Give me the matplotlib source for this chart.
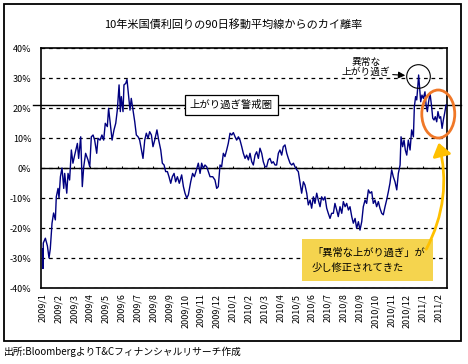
import matplotlib
matplotlib.use("Agg")
import matplotlib.pyplot as plt
from matplotlib.patches import Ellipse, Rectangle, FancyArrowPatch

# フォント（日本語）
plt.rcParams["font.family"] = ["Noto Sans CJK JP", "DejaVu Sans"]

# データ：2009年1月からの経過月数 と 90日移動平均線からのカイ離率(%)
months = [
    0.00, 0.03, 0.05, 0.18, 0.31, 0.41, 0.49, 0.60, 0.70, 0.81, 0.87, 0.98, 1.04, 1.13,
    1.23, 1.34, 1.40, 1.53, 1.61, 1.71, 1.82, 1.92, 2.03, 2.20, 2.28, 2.41, 2.51, 2.60,
    2.72, 2.87, 2.98, 3.08, 3.19, 3.29, 3.42, 3.50, 3.63, 3.75, 3.86, 3.96, 4.09, 4.17,
    4.30, 4.39, 4.51, 4.62, 4.72, 4.83, 4.91, 4.97, 5.08, 5.14, 5.25, 5.33, 5.44, 5.52,
    5.60, 5.71, 5.82, 5.92, 6.03, 6.13, 6.24, 6.34, 6.45, 6.55, 6.66, 6.76, 6.87, 6.97,
    7.08, 7.22, 7.33, 7.46, 7.56, 7.67, 7.77, 7.88, 7.98, 8.09, 8.19, 8.30, 8.40, 8.51,
    8.63, 8.78, 8.89, 8.99, 9.10, 9.20, 9.35, 9.47, 9.58, 9.68, 9.83, 9.94, 10.04, 10.15,
    10.25, 10.36, 10.46, 10.57, 10.74, 10.88, 10.99, 11.09, 11.20, 11.30, 11.41, 11.51,
    11.62, 11.72, 11.83, 11.94, 12.04, 12.15, 12.25, 12.36, 12.46, 12.57, 12.67, 12.78,
    12.88, 12.99, 13.09, 13.20, 13.30, 13.41, 13.51, 13.62, 13.72, 13.83, 13.93, 14.04,
    14.14, 14.25, 14.35, 14.46, 14.56, 14.67, 14.77, 14.88, 14.98, 15.09, 15.19, 15.30,
    15.41, 15.51, 15.62, 15.72, 15.83, 15.93, 16.04, 16.14, 16.25, 16.35, 16.46, 16.56,
    16.67, 16.77, 16.88, 16.98, 17.09, 17.19, 17.30, 17.40, 17.51, 17.61, 17.72, 17.82,
    17.93, 18.03, 18.14, 18.24, 18.35, 18.45, 18.56, 18.66, 18.77, 18.88, 18.98, 19.09,
    19.19, 19.30, 19.40, 19.51, 19.61, 19.72, 19.82, 19.93, 20.03, 20.14, 20.24, 20.35,
    20.45, 20.56, 20.66, 20.77, 20.87, 20.98, 21.08, 21.19, 21.29, 21.40, 21.50, 21.61,
    21.71, 21.82, 21.92, 22.03, 22.13, 22.24, 22.35, 22.45, 22.56, 22.62, 22.72, 22.81,
    22.89, 22.98, 23.08, 23.19, 23.29, 23.40, 23.46, 23.54, 23.61, 23.67, 23.73, 23.80,
    23.86, 23.94, 24.03, 24.13, 24.20, 24.28, 24.36, 24.45, 24.55, 24.62, 24.70, 24.78,
    24.87, 24.95, 25.04, 25.12, 25.21, 25.29, 25.37, 25.46,
]
values = [
    -27, -33.5, -25, -23.4, -26, -30, -27, -18.4, -15, -17.3, -9.6, -6.8, -10, -2.9,
    0, -6.8, -1.8, -8.4, -1.8, -4, 6, 1.6, 4.3, 8.2, 3.2, 10.4, -6.2, 0.4,
    4.9, 2.7, 0.4, 10.4, 11, 9.3, 4.9, 9.9, 9.3, 11, 9.3, 14.9, 13.8, 19.9,
    13.8, 9.3, 12.7, 14.9, 19.3, 27.7, 18.8, 23.8, 18.8, 27.7, 28.2, 29.5, 23.8, 19.3,
    23.2, 19.3, 15.4, 11, 10.4, 9.3, 6, 3.2, 9.3, 11.6, 9.9, 12.1, 11, 7.1,
    9.3, 12.7, 9.3, 6, 1.6, 1, -1.2, -1.2, -2.9, -5.1, -2.9, -1.8, -4.6, -2.9,
    -5.1, -2.3, -6.2, -8.4, -10, -9, -4.6, -1.8, -2.9, -1.2, 1.6, -1.8, 1.6, -0.1,
    1, 0.4, -1.2, -2.9, -2.9, -4, -6.8, -6.2, 1, 0.4, 4.9, 3.8,
    6, 8.2, 11.6, 11, 11.8, 10.4, 9.3, 10.4, 9.3, 7.1, 4.9, 3.2,
    4.3, 2.7, 4.9, 2.1, 1, 4.3, 5.4, 3.2, 6.6, 4.9, 2.1, 0.4,
    0.4, 2.7, 3.2, 1.6, 2.1, 1, 1, 4.9, 6, 4.3, 7.1, 7.7,
    4.9, 3.2, 1.6, 1, 1.6, 0.4, -0.6, -1.2, -5.1, -8.4, -4.6, -5.7,
    -8.4, -12.3, -10.7, -13.4, -9.6, -11.8, -8.4, -10.7, -12.9, -9.6, -10.7, -9.6,
    -13.4, -15.1, -16.8, -15.1, -15.1, -11.8, -14, -16.2, -12.9, -15.1, -11.2, -12.9,
    -11.8, -14, -12.9, -16.2, -18.4, -16.8, -20.1, -17.9, -20.7, -17.9, -12.9, -10.7,
    -11.8, -7.3, -8.4, -7.9, -11.8, -10.7, -12.9, -11.2, -13.4, -15.1, -15.6, -12.9,
    -10.7, -7.9, -5.1, -0.6, -2.9, -4.6, -7.3, -1.8, 1, 10.4, 7.1, 9.3,
    6, 4.3, 9.3, 6, 12.7, 10.4, 20.4, 23.8, 22.7, 26.6, 31, 26,
    22.1, 24.3, 23.2, 25.4, 21, 18.8, 22.1, 24.9, 20.4, 16.6, 16, 17.1,
    15.4, 18.8, 16.6, 17.1, 13.2, 16, 18.2, 21,
]

month_labels = [
    "2009/1", "2009/2", "2009/3", "2009/4", "2009/5", "2009/6", "2009/7", "2009/8",
    "2009/9", "2009/10", "2009/11", "2009/12", "2010/1", "2010/2", "2010/3", "2010/4",
    "2010/5", "2010/6", "2010/7", "2010/8", "2010/9", "2010/10", "2010/11", "2010/12",
    "2011/1", "2011/2",
]
y_ticks = [-40, -30, -20, -10, 0, 10, 20, 30, 40]
y_labels = ["-40%", "-30%", "-20%", "-10%", "0%", "10%", "20%", "30%", "40%"]
warning_level = 21      # 上がり過ぎ警戒ライン
peak_month, peak_value = 23.66, 30.7

fig = plt.figure(figsize=(4.68, 3.64), dpi=100)
fig.patch.set_facecolor("white")

# 外枠
fig.patches.append(Rectangle((4 / 468, 23 / 364), 457 / 468, 337 / 364, fill=False,
                             edgecolor="black", lw=1.3, transform=fig.transFigure))

ax = fig.add_axes([41 / 468, 76 / 364, 406 / 468, 240 / 364])

# 系列
ax.plot(months, values, color="#000080", lw=1.0, zorder=3)

ax.set_xlim(-0.095, 25.52)
ax.set_ylim(-40, 40)
ax.set_yticks(y_ticks)
ax.set_yticklabels(y_labels)
ax.set_xticks(range(len(month_labels)))
ax.set_xticklabels(month_labels, rotation=90, va="top", ha="center")
ax.tick_params(axis="y", length=0, pad=7, labelsize=6.5)
ax.tick_params(axis="x", length=0, pad=4, labelsize=6.5)
for s in ax.spines.values():
    s.set_linewidth(1.2)

ax.grid(axis="y", color="black", ls=(0, (3, 3)), lw=0.9)
ax.set_axisbelow(True)
ax.axhline(0, color="black", lw=1.0, zorder=2)
ax.vlines(range(1, len(month_labels)), 0, 0.8, color="black", lw=0.8, zorder=2)

# 上がり過ぎ警戒ライン
ax.plot([-0.02, 1.034], [warning_level, warning_level], transform=ax.get_yaxis_transform(),
        color="black", lw=1.0, clip_on=False, zorder=2)
ax.text(11.92, warning_level, "上がり過ぎ警戒圏", fontsize=7.5, ha="center", va="center",
        bbox=dict(boxstyle="square,pad=0.45", fc="white", ec="black", lw=0.9), zorder=5)

# 異常な上がり過ぎ
ax.plot(peak_month, peak_value, "o", ms=17, mfc="none", mec="black", mew=0.8, zorder=4)
ax.text(20.41, 33.7, "異常な\n上がり過ぎ", fontsize=7, ha="center", va="center",
        linespacing=1.0, zorder=5)
ax.annotate("", xy=(23.06, 30.8), xytext=(21.92, 31.2),
            arrowprops=dict(arrowstyle="-|>,head_length=0.4,head_width=0.2",
                            color="black", lw=0.8))

# オレンジの楕円
ax.add_patch(Ellipse((24.97, 18.0), 2.08, 16, fill=False, edgecolor="#F07828",
                     lw=2, clip_on=False, zorder=5))

# 黄色の吹き出し
ax.add_patch(Rectangle((16.35, -37.67), 8.29, 14, fc="#F5D44E", ec="none", zorder=4))
ax.text(17.0, -30.67, "「異常な上がり過ぎ」が\n少し修正されてきた", fontsize=7.4,
        ha="left", va="center", linespacing=1.6, zorder=5)
ax.add_patch(FancyArrowPatch((24.13, -27.9), (24.95, 9.3), connectionstyle="arc3,rad=0.2",
                             arrowstyle="-|>,head_length=0.55,head_width=0.4",
                             mutation_scale=14, color="#FFC000", lw=2, clip_on=False,
                             zorder=5))

fig.text(233 / 468, 340 / 364, "10年米国債利回りの90日移動平均線からのカイ離率",
         fontsize=8, ha="center", va="center")
fig.text(4 / 468, 12 / 364, "出所:BloombergよりT&Cフィナンシャルリサーチ作成",
         fontsize=7, ha="left", va="center")

fig.savefig("out.png", dpi=100)
